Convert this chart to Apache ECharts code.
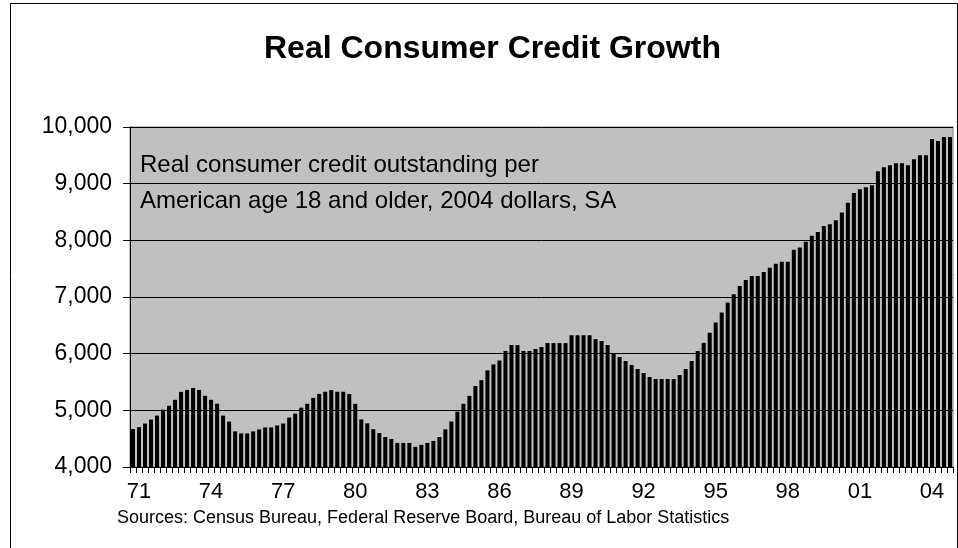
<!DOCTYPE html>
<html>
<head>
<meta charset="utf-8">
<script src="https://cdn.jsdelivr.net/npm/echarts@6/dist/echarts.min.js"></script>
<style>
  html, body { margin: 0; padding: 0; background: #fff; }
  #chart { width: 958px; height: 548px; }
</style>
</head>
<body>
<div id="chart"></div>
<script>
// Quarterly periods, 1970 Q4 through 2004 Q4
const startYear = 1970, startQuarter = 4, quarterCount = 137;
const quarters = [];
for (let i = 0; i < quarterCount; i++) {
  const q = startQuarter - 1 + i;
  quarters.push((startYear + Math.floor(q / 4)) + 'Q' + (q % 4 + 1));
}

// Year labels shown under the axis (at each year's first quarter)
const yearTicks = ['71', '74', '77', '80', '83', '86', '89', '92', '95', '98', '01', '04'];

// Real consumer credit outstanding per adult, 2004 dollars
const creditPerAdult = [
  4669, 4703, 4767, 4837, 4907, 5012, 5081, 5186, 5326, 5360,
  5395, 5360, 5256, 5186, 5116, 4907, 4802, 4628, 4593, 4593,
  4628, 4663, 4698, 4698, 4733, 4767, 4872, 4942, 5047, 5116,
  5220, 5289, 5328, 5356, 5328, 5328, 5287, 5115, 4839, 4770,
  4667, 4598, 4529, 4494, 4425, 4425, 4425, 4356, 4391, 4425,
  4460, 4529, 4665, 4803, 4977, 5115, 5255, 5428, 5532, 5705,
  5810, 5880, 6047, 6152, 6152, 6047, 6047, 6082, 6117, 6187,
  6187, 6187, 6187, 6327, 6327, 6327, 6327, 6257, 6223, 6153,
  6012, 5941, 5871, 5800, 5730, 5659, 5588, 5553, 5553, 5553,
  5553, 5624, 5729, 5871, 6047, 6190, 6369, 6548, 6726, 6905,
  7048, 7192, 7299, 7371, 7371, 7442, 7514, 7585, 7621, 7621,
  7836, 7872, 7976, 8081, 8149, 8251, 8286, 8354, 8491, 8663,
  8834, 8903, 8937, 8971, 9219, 9290, 9325, 9361, 9361, 9325,
  9432, 9503, 9503, 9787, 9751, 9822, 9822
];

const FONT = "'Liberation Sans', Arial, sans-serif";

const chart = echarts.init(document.getElementById('chart'), null, { renderer: 'canvas' });

function yearLabelOf(cat) {
  const yy = cat.slice(2, 4);
  return (cat.endsWith('Q1') && yearTicks.indexOf(yy) >= 0) ? yy : '';
}

chart.setOption({
  backgroundColor: '#ffffff',
  animation: false,
  title: {
    text: 'Real Consumer Credit Growth',
    left: 259,
    top: 28,
    textStyle: { fontFamily: FONT, fontSize: 32, fontWeight: 'bold', color: '#000' }
  },
  grid: {
    left: 130, right: 5, top: 127, bottom: 81,
    show: true,
    backgroundColor: '#c0c0c0',
    borderColor: '#808080',
    borderWidth: 1
  },
  xAxis: {
    type: 'category',
    data: quarters,
    boundaryGap: true,
    axisLine: { show: true, lineStyle: { color: '#000', width: 1 } },
    axisTick: { show: true, interval: 0, length: 6, lineStyle: { color: '#000' } },
    axisLabel: {
      interval: 0,
      formatter: function (v) { return yearLabelOf(v); },
      fontFamily: FONT, fontSize: 22, color: '#000', margin: 14
    },
    splitLine: { show: false }
  },
  yAxis: {
    type: 'value',
    min: 4000, max: 10000, interval: 1000,
    axisLine: { show: true, lineStyle: { color: '#000', width: 1 } },
    axisTick: { show: true, length: 7, lineStyle: { color: '#000' } },
    axisLabel: {
      formatter: function (v) { return v.toLocaleString('en-US'); },
      fontFamily: FONT, fontSize: 23, color: '#000', margin: 18
    },
    splitLine: { show: true, lineStyle: { color: '#000', width: 1 } }
  },
  series: [{
    type: 'bar',
    data: creditPerAdult,
    barCategoryGap: '33%',
    itemStyle: { color: '#000' },
    z: 3
  }],
  graphic: [
    {
      type: 'rect', left: 8, top: 1, z: 100, silent: true,
      shape: { width: 947, height: 546 },
      style: { fill: 'none', stroke: '#000', lineWidth: 1 }
    },
    {
      type: 'text', x: 140, y: 165, z: 100,
      style: { text: 'Real consumer credit outstanding per', font: '24px ' + FONT, fill: '#000', verticalAlign: 'middle' }
    },
    {
      type: 'text', x: 140, y: 201, z: 100,
      style: { text: 'American age 18 and older, 2004 dollars, SA', font: '24px ' + FONT, fill: '#000', verticalAlign: 'middle' }
    },
    {
      type: 'text', x: 117, y: 518, z: 100,
      style: { text: 'Sources: Census Bureau, Federal Reserve Board, Bureau of Labor Statistics', font: '18px ' + FONT, fill: '#000', verticalAlign: 'middle' }
    }
  ]
});
</script>
</body>
</html>
